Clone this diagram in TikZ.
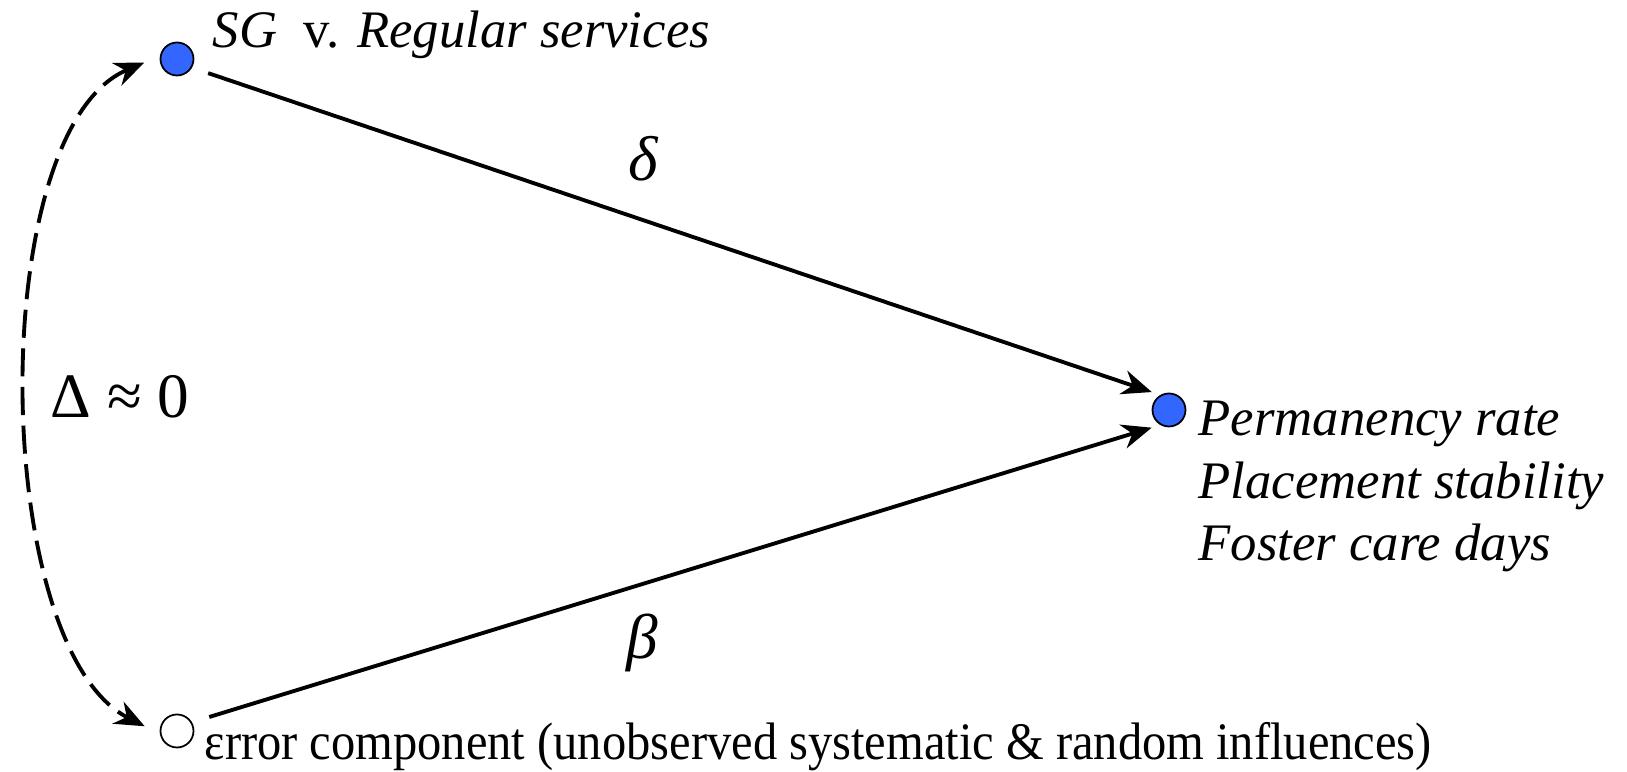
\documentclass[tikz,border=0pt]{standalone}
\usepackage{fontspec}
\setmainfont{Liberation Serif}
\newfontfamily\condfont{Liberation Serif}[FakeStretch=0.92]
\usetikzlibrary{arrows.meta,positioning}
\definecolor{sgblue}{RGB}{51,102,255}
\tikzset{
  vnode/.style={draw, circle, line width=0.5pt, fill=#1,
                minimum size=0.33cm, inner sep=0pt},
  vlabel/.style={inner sep=0pt, font=\fontsize{15pt}{17.8pt}\selectfont\itshape},
  coef/.style={inner sep=0pt, font=\fontsize{18pt}{21pt}\selectfont\itshape},
  effect/.style={line width=1.1pt, -{Stealth[length=8.5pt, width=7pt]}},
  corr/.style={line width=1.1pt, dash pattern=on 8pt off 3pt,
               {Stealth[length=8.5pt, width=7pt]}-{Stealth[length=8.5pt, width=7pt]}},
}
\begin{document}
\begin{tikzpicture}
\useasboundingbox (0,0) rectangle (16.27,7.72);

% variables
\node[vnode=sgblue] (sg) at (1.77,7.13) {};
\node[vnode=sgblue] (out) at (11.69,3.62) {};
\node[vnode=white] (err) at (1.77,0.41) {};

% labels
\node[vlabel, anchor=base west] (sglab) at (2.12,7.24)
     {SG\/\ \ \textup{v.} Regular services};
\node[vlabel, anchor=base west, align=left] (outlab) at (11.98,2.11)
     {Permanency rate\\Placement stability\\Foster care days};
\node[inner sep=0pt, anchor=base west, font=\fontsize{15pt}{18pt}\condfont] (errlab) at (2.04,0.12)
     {ε{}rror component (unobserved systematic \& random influences)};

% coefficients
\node[coef] (delta) at (6.43,6.13) {δ};
\node[coef] (beta) at (6.42,1.29) {β};
\node[coef, font=\fontsize{18pt}{21pt}\selectfont\upshape] (diff) at (1.20,3.75) {Δ ≈ 0};

% paths
\draw[effect, shorten <=0.17cm, shorten >=0.09cm] (sg.-30) -- (out.120);
\draw[effect, shorten <=0.18cm, shorten >=0.09cm] (err.30) -- (out.240);
\draw[corr, shorten <=0.17cm, shorten >=0.17cm]
     (sg.170) to[out=203, in=153, looseness=0.72] (err.190);

\end{tikzpicture}
\end{document}
